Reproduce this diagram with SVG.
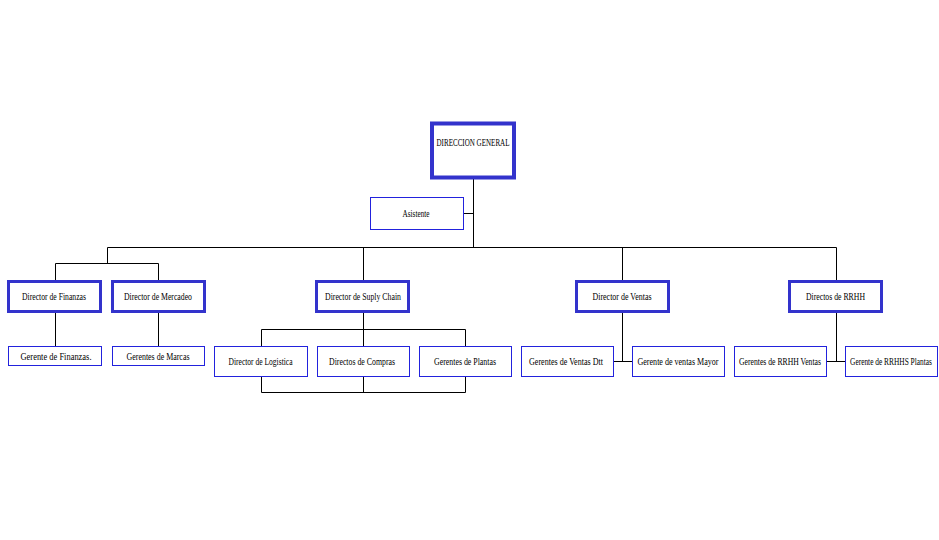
<svg xmlns="http://www.w3.org/2000/svg" width="939" height="540" viewBox="0 0 939 540">
<style>
rect{fill:#fff}
.b0{stroke:#3333CC;stroke-width:4}
.b1{stroke:#3333CC;stroke-width:3}
.b2{stroke:#2222DD;stroke-width:1}
text{font-family:"Liberation Serif",serif;font-size:10px;fill:#000;text-anchor:middle;dominant-baseline:central}
.c line,.c polyline{stroke:#000;stroke-width:1;fill:none}
</style>
<rect width="939" height="540" fill="#fff"/>
<g class="c" id="connectors">
<line x1="473.5" y1="179" x2="473.5" y2="247.5"/>
<line x1="463.5" y1="213.5" x2="473.5" y2="213.5"/>
<line x1="107.5" y1="247.5" x2="836.5" y2="247.5"/>
<line x1="107.5" y1="247.5" x2="107.5" y2="263.5"/>
<polyline points="55.5,280 55.5,263.5 158.5,263.5 158.5,280"/>
<line x1="363.5" y1="247.5" x2="363.5" y2="280"/>
<line x1="622.5" y1="247.5" x2="622.5" y2="280"/>
<line x1="836.5" y1="247.5" x2="836.5" y2="280"/>
<line x1="55.5" y1="313" x2="55.5" y2="346"/>
<line x1="158.5" y1="313" x2="158.5" y2="346"/>
<line x1="363.5" y1="313" x2="363.5" y2="392.5"/>
<polyline points="261.5,346 261.5,329.5 465.5,329.5 465.5,346"/>
<polyline points="261.5,377 261.5,392.5 465.5,392.5 465.5,377"/>
<line x1="622.5" y1="313" x2="622.5" y2="361.5"/>
<line x1="614" y1="361.5" x2="632" y2="361.5"/>
<line x1="836.5" y1="313" x2="836.5" y2="361.5"/>
<line x1="827" y1="361.5" x2="845" y2="361.5"/>
</g>
<g id="n-direccion"><rect class="b0" x="432" y="123.5" width="82" height="54"/><text x="473" y="142" textLength="73" lengthAdjust="spacingAndGlyphs">DIRECCION GENERAL</text></g>
<g id="n-asistente"><rect class="b2" x="370.5" y="197.5" width="93" height="32"/><text x="416" y="213.5" textLength="27" lengthAdjust="spacingAndGlyphs">Asistente</text></g>
<g id="n-finanzas"><rect class="b1" x="8.5" y="281.5" width="92" height="30"/><text x="54" y="296" textLength="64" lengthAdjust="spacingAndGlyphs">Director de Finanzas</text></g>
<g id="n-mercadeo"><rect class="b1" x="112.5" y="281.5" width="92" height="30"/><text x="158" y="296" textLength="68" lengthAdjust="spacingAndGlyphs">Director de Mercadeo</text></g>
<g id="n-supply"><rect class="b1" x="316.5" y="281.5" width="92" height="30"/><text x="363" y="296" textLength="76" lengthAdjust="spacingAndGlyphs">Director de Suply Chain</text></g>
<g id="n-ventas"><rect class="b1" x="576.5" y="281.5" width="92" height="30"/><text x="622" y="296" textLength="59" lengthAdjust="spacingAndGlyphs">Director de Ventas</text></g>
<g id="n-rrhh"><rect class="b1" x="789.5" y="281.5" width="92" height="30"/><text x="835.5" y="296" textLength="59" lengthAdjust="spacingAndGlyphs">Directos de RRHH</text></g>
<g id="n-gfinanzas"><rect class="b2" x="8.5" y="346.5" width="93" height="19"/><text x="56" y="356" textLength="71" lengthAdjust="spacingAndGlyphs">Gerente de Finanzas.</text></g>
<g id="n-gmarcas"><rect class="b2" x="112.5" y="346.5" width="92" height="19"/><text x="158" y="356" textLength="63" lengthAdjust="spacingAndGlyphs">Gerentes de Marcas</text></g>
<g id="n-logistica"><rect class="b2" x="214.5" y="346.5" width="93" height="30"/><text x="260.5" y="361" textLength="64" lengthAdjust="spacingAndGlyphs">Director de Logistica</text></g>
<g id="n-compras"><rect class="b2" x="317.5" y="346.5" width="92" height="30"/><text x="362" y="361" textLength="66" lengthAdjust="spacingAndGlyphs">Directos de Compras</text></g>
<g id="n-plantas"><rect class="b2" x="419.5" y="346.5" width="92" height="30"/><text x="465" y="361" textLength="62" lengthAdjust="spacingAndGlyphs">Gerentes de Plantas</text></g>
<g id="n-ventasdtt"><rect class="b2" x="521.5" y="346.5" width="92" height="30"/><text x="566" y="361" textLength="74" lengthAdjust="spacingAndGlyphs">Gerentes de Ventas Dtt</text></g>
<g id="n-ventasmayor"><rect class="b2" x="632.5" y="346.5" width="92" height="30"/><text x="678" y="361" textLength="81" lengthAdjust="spacingAndGlyphs">Gerente de ventas Mayor</text></g>
<g id="n-rrhhventas"><rect class="b2" x="734.5" y="346.5" width="92" height="30"/><text x="780" y="361" textLength="82" lengthAdjust="spacingAndGlyphs">Gerentes de RRHH Ventas</text></g>
<g id="n-rrhhplantas"><rect class="b2" x="845.5" y="346.5" width="92" height="30"/><text transform="translate(891,362) scale(0.74,1)" x="0" y="0">Gerente de RRHHS Plantas</text></g>
</svg>
